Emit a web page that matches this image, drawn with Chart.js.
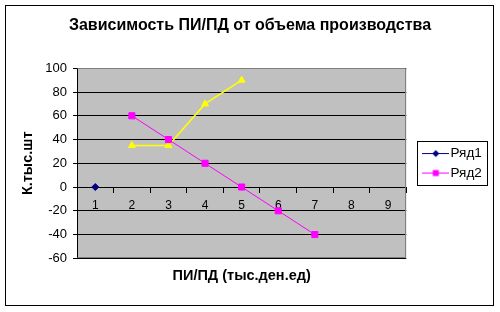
<!DOCTYPE html>
<html>
<head>
<meta charset="utf-8">
<script src="https://cdn.jsdelivr.net/npm/chart.js@4/dist/chart.umd.min.js"></script>
<style>
  html, body { margin: 0; padding: 0; background: #fff; }
  #c { display: block; }
</style>
</head>
<body>
<canvas id="c" width="500" height="312"></canvas>
<script>
// ---- data ----
const categories = ['1', '2', '3', '4', '5', '6', '7', '8', '9'];
const ryad1 = [0, null, null, null, null, null, null, null, null];
const ryad2 = [null, 60, 40, 20, 0, -20, -40, null, null];
const ryad3 = [null, 35, 35, 70, 90, null, null, null, null];
const seriesNames = ['Ряд1', 'Ряд2', 'Ряд3'];
const yMin = -60, yMax = 100, yStep = 20;

const titleText = 'Зависимость ПИ/ПД от объема производства';
const xTitle = 'ПИ/ПД (тыс.ден.ед)';
const yTitle = 'К.тыс.шт';

const FONT = '"Liberation Sans", Arial, sans-serif';
const LEGEND_FONT_SIZE = 13.5;

// measure legend width so the plot area keeps its place
const mctx = document.createElement('canvas').getContext('2d');
mctx.font = LEGEND_FONT_SIZE + 'px ' + FONT;
const legendTextW = Math.max(mctx.measureText(seriesNames[0]).width, mctx.measureText(seriesNames[1]).width);
const legendW = 6 + 16 + LEGEND_FONT_SIZE / 2 + legendTextW;
const PAD = 10;
const plotRight = 406.3;
const gapR = 15.5;
const outerR = Math.max(0, 500 - PAD - plotRight - gapR - legendW);

function legendIcon(color, style) {
  const cv = document.createElement('canvas');
  cv.width = 27; cv.height = 9;
  const g = cv.getContext('2d');
  g.strokeStyle = color; g.lineWidth = 1;
  g.beginPath(); g.moveTo(0, 4.5); g.lineTo(27, 4.5); g.stroke();
  g.fillStyle = color;
  g.beginPath();
  if (style === 'diamond') {
    g.moveTo(13.5, 1); g.lineTo(17, 4.5); g.lineTo(13.5, 8); g.lineTo(10, 4.5); g.closePath();
  } else {
    g.rect(10.5, 1.5, 6, 6);
  }
  g.fill();
  return cv;
}

const decor = {
  id: 'decor',
  beforeDraw(chart) {
    const {ctx, chartArea: a} = chart;
    ctx.save();
    ctx.fillStyle = '#fff';
    ctx.fillRect(0, 0, chart.width, chart.height);
    ctx.fillStyle = '#C0C0C0';
    ctx.fillRect(a.left, a.top, a.right - a.left, a.bottom - a.top);
    ctx.strokeStyle = '#000'; ctx.lineWidth = 1;
    ctx.strokeRect(5.5, 5.5, 488, 300);
    ctx.restore();
  },
  beforeDatasetsDraw(chart) {
    const {ctx, chartArea: a} = chart;
    ctx.save();
    ctx.strokeStyle = '#808080'; ctx.lineWidth = 1;
    const l = Math.round(a.left) + 0.5, r = Math.round(a.right) - 0.5;
    const t = Math.round(a.top) + 0.5, b = Math.round(a.bottom) - 0.5;
    ctx.beginPath();
    ctx.moveTo(l, t); ctx.lineTo(r, t); ctx.lineTo(r, b); ctx.lineTo(l, b);
    ctx.stroke();
    ctx.restore();
  },
  afterDraw(chart) {
    const lg = chart.legend;
    if (!lg || !lg.legendHitBoxes || !lg.legendHitBoxes.length) return;
    const hb = lg.legendHitBoxes;
    const x0 = Math.round(hb[0].left - 11) + 0.5;
    const y0 = Math.round(hb[0].top - 6) + 0.5;
    const x1 = Math.round(hb[0].left + 59) + 0.5;
    const last = hb[hb.length - 1];
    const y1 = Math.round(last.top + last.height + 5) + 0.5;
    const ctx = chart.ctx;
    ctx.save();
    ctx.strokeStyle = '#000'; ctx.lineWidth = 1;
    ctx.strokeRect(x0, y0, x1 - x0, y1 - y0);
    ctx.restore();
  }
};

const icons = [legendIcon('#000080', 'diamond'), legendIcon('#FF00FF', 'square')];

new Chart(document.getElementById('c'), {
  type: 'line',
  data: {
    labels: categories,
    datasets: [
      { label: seriesNames[0], data: ryad1, yAxisID: 'y', borderColor: '#000080', backgroundColor: '#000080',
        borderWidth: 1, pointStyle: 'rectRot', pointRadius: 3.5, pointBorderWidth: 1 },
      { label: seriesNames[1], data: ryad2, yAxisID: 'y', borderColor: '#FF00FF', backgroundColor: '#FF00FF',
        borderWidth: 1, pointStyle: 'rect', pointRadius: 4.3, pointBorderWidth: 1 },
      { label: seriesNames[2], data: ryad3, yAxisID: 'y', borderColor: '#FFFF00', backgroundColor: '#FFFF00',
        borderWidth: 1.5, pointStyle: 'triangle', pointRadius: 4, pointBorderWidth: 1 }
    ]
  },
  options: {
    responsive: false,
    animation: false,
    devicePixelRatio: 1,
    layout: { padding: { left: PAD, right: PAD, top: 0, bottom: 0 } },
    plugins: {
      title: {
        display: true, text: titleText, color: '#000',
        font: { family: FONT, size: 16, weight: 'bold' },
        padding: { top: 15.9, bottom: 33.2 }
      },
      subtitle: {
        display: true, text: xTitle, position: 'bottom', fullSize: false, color: '#000',
        font: { family: FONT, size: 14.5, weight: 'bold' },
        padding: { top: 9, bottom: 27.3 }
      },
      legend: {
        display: true, position: 'right', fullSize: false, align: 'center',
        labels: {
          color: '#000', font: { family: FONT, size: LEGEND_FONT_SIZE },
          usePointStyle: true, pointStyleWidth: 16, padding: 6,
          filter: (item) => item.datasetIndex < 2,
          generateLabels: (chart) => {
            const items = Chart.defaults.plugins.legend.labels.generateLabels(chart);
            return items.map(it => Object.assign(it, { pointStyle: icons[it.datasetIndex] || it.pointStyle }));
          }
        }
      },
      tooltip: { enabled: false }
    },
    scales: {
      x: {
        type: 'category', offset: true, position: { y: 0 },
        grid: { display: true, drawOnChartArea: false, drawTicks: true, tickLength: 5, offset: true, color: '#000' },
        border: { display: true, color: '#000', width: 1 },
        ticks: { color: '#000', font: { family: FONT, size: 12 }, padding: 6, maxRotation: 0, autoSkip: false }
      },
      y: {
        type: 'linear', position: 'left', min: yMin, max: yMax,
        ticks: { stepSize: yStep, color: '#000', font: { family: FONT, size: 13 }, padding: 6 },
        grid: { color: '#000', drawTicks: true, tickLength: 4, lineWidth: 1 },
        border: { display: true, color: '#000', width: 1 },
        title: { display: true, text: yTitle, color: '#000', font: { family: FONT, size: 14.5, weight: 'bold' },
                 padding: { top: 9.3, bottom: 5 } },
        afterFit: (s) => { s.width = 67; }
      },
      yR: {
        type: 'linear', position: 'right', display: true, weight: 0,
        grid: { display: false }, border: { display: false }, ticks: { display: false },
        afterFit: (s) => { s.width = gapR; }
      },
      yR2: {
        type: 'linear', position: 'right', display: true, weight: 2000,
        grid: { display: false }, border: { display: false }, ticks: { display: false },
        afterFit: (s) => { s.width = outerR; }
      }
    }
  },
  plugins: [decor]
});
</script>
</body>
</html>
